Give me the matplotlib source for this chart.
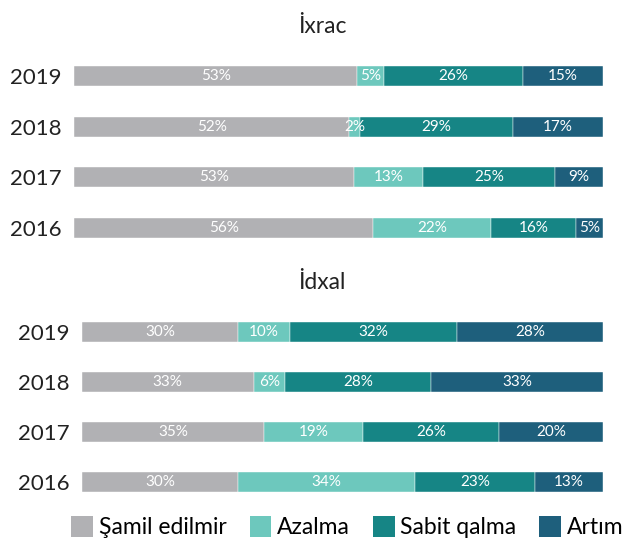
import numpy as np
import matplotlib.pyplot as plt
from matplotlib.patches import Patch

plt.rcParams['font.family'] = ['Lato', 'DejaVu Sans']

years = ['2019', '2018', '2017', '2016']
categories = ['Şamil edilmir', 'Azalma', 'Sabit qalma', 'Artım']
colors = ['#b1b1b4', '#6dc8bd', '#168585', '#1e5f7c']

# shares per year, order: 2019, 2018, 2017, 2016
ixrac = [
    [53, 52, 53, 56],   # Şamil edilmir
    [5, 2, 13, 22],     # Azalma
    [26, 29, 25, 16],   # Sabit qalma
    [15, 17, 9, 5],     # Artım
]
idxal = [
    [30, 33, 35, 30],
    [10, 6, 19, 34],
    [32, 28, 26, 23],
    [28, 33, 20, 13],
]


def draw_panel(ax, data, title, title_x):
    vals = np.array(data, dtype=float)
    totals = vals.sum(axis=0)
    widths = vals / totals * 100
    y = np.arange(len(years))
    left = np.zeros(len(years))
    for i, cat in enumerate(categories):
        ax.barh(y, widths[i], left=left, height=0.4, color=colors[i],
                edgecolor='white', linewidth=0.3)
        for j in range(len(years)):
            ax.text(left[j] + widths[i][j] / 2, y[j], f"{int(vals[i][j])}%",
                    ha='center', va='center', color='white', fontsize=11)
        left += widths[i]
    ax.set_xlim(0, 100)
    ax.set_ylim(len(years) - 0.5, -0.5)
    ax.set_yticks(y)
    ax.set_yticklabels(years, fontsize=16, color='#222222')
    ax.tick_params(axis='y', length=0, pad=9)
    ax.set_xticks([])
    for s in ax.spines.values():
        s.set_visible(False)
    ax.set_title(title, fontsize=16.5, color='#222222', pad=13, x=title_x)


fig = plt.figure(figsize=(6.34, 5.47), dpi=100)
ax1 = fig.add_axes([0.117, 0.537, 0.834, 0.37])
ax2 = fig.add_axes([0.129, 0.073, 0.822, 0.366])

draw_panel(ax1, ixrac, 'İxrac', 0.47)
draw_panel(ax2, idxal, 'İdxal', 0.46)

handles = [Patch(facecolor=c, edgecolor='none') for c in colors]
fig.legend(handles, categories, loc='center', bbox_to_anchor=(0.548, 0.036),
           ncol=4, frameon=False, fontsize=16.5, handlelength=0.95, handleheight=1.0,
           handletextpad=0.25, columnspacing=1.0, borderaxespad=0)

fig.savefig('out.png', dpi=100)
